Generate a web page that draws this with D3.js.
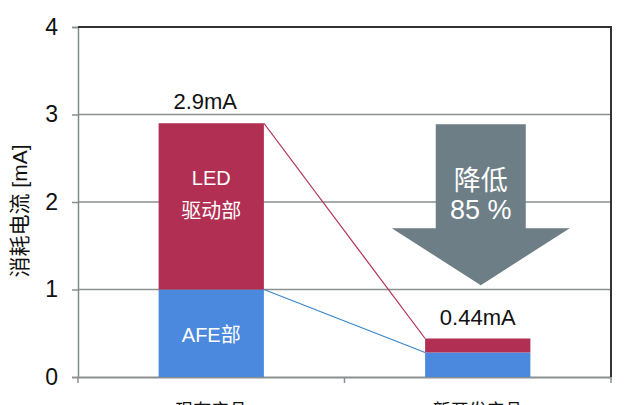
<!DOCTYPE html>
<html><head><meta charset="utf-8">
<script src="https://cdn.jsdelivr.net/npm/d3@7"></script>
<style>html,body{margin:0;padding:0;background:#fff;overflow:hidden}</style>
</head><body>
<svg id="c" width="640" height="405"></svg>
<script>
const categories = ["现有产品", "新开发产品"];
const afeValues = [1.0, 0.28];
const ledValues = [1.9, 0.16];
const totalLabels = ["2.9mA", "0.44mA"];
const yTicks = [0, 1, 2, 3, 4];
const arrowText = ["降低", "85 %"];

const W = 640, H = 405;
const L = 78, R = 611, T = 27, B = 377;
const svg = d3.select("#c");
const font = "'Liberation Sans', Arial, 'Noto Sans CJK SC', sans-serif";
const red = "#B12F52", blue = "#4A89DE", gray = "#6E7E86";

const x = d3.scaleBand().domain(categories).range([L, R]).padding(0);
const y = d3.scaleLinear().domain([0, 4]).range([B, T]);
const bw = x.bandwidth() * 0.395;
const bx = c => x(c) + (x.bandwidth() - bw) / 2;

// gridlines
svg.append("g").selectAll("line").data(yTicks.filter(d => d > 0 && d < 4)).join("line")
  .attr("x1", L).attr("x2", R).attr("y1", d => y(d)).attr("y2", d => y(d))
  .attr("stroke", "#8a8f90").attr("stroke-width", 1.5);

// y axis
const ya = svg.append("g").attr("transform", `translate(${L},0)`)
  .call(d3.axisLeft(y).tickValues(yTicks).tickSize(6).tickFormat(d3.format("d")));
ya.select(".domain").attr("stroke", "#7f8c8c").attr("stroke-width", 1.5);
ya.selectAll(".tick line").attr("stroke", "#8a8f90").attr("stroke-width", 1.5);
ya.selectAll(".tick text").attr("font-family", font).attr("font-size", 23).attr("fill", "#111").attr("x", -20);

// x axis
const xa = svg.append("g").attr("transform", `translate(0,${B})`)
  .call(d3.axisBottom(x).tickSize(0).tickPadding(27));
xa.select(".domain").attr("stroke", "#8a8f90").attr("stroke-width", 2);
xa.selectAll(".tick text").attr("font-family", font).attr("font-size", 18).attr("fill", "#111");
svg.append("g").selectAll("line").data([L, x(categories[1]), R]).join("line")
  .attr("x1", d => d).attr("x2", d => d).attr("y1", B).attr("y2", B + 6)
  .attr("stroke", "#8a8f90").attr("stroke-width", 1.5);

// top & right border
svg.append("path").attr("d", `M${L},${T}H${R}V${B}`).attr("fill", "none")
  .attr("stroke", "#333").attr("stroke-width", 2);

// bars
const g = svg.append("g");
g.selectAll(".afe").data(categories).join("rect")
  .attr("x", bx).attr("width", bw)
  .attr("y", (c, i) => y(afeValues[i])).attr("height", (c, i) => y(0) - y(afeValues[i]))
  .attr("fill", blue);
g.selectAll(".led").data(categories).join("rect")
  .attr("x", bx).attr("width", bw)
  .attr("y", (c, i) => y(afeValues[i] + ledValues[i])).attr("height", (c, i) => y(afeValues[i]) - y(afeValues[i] + ledValues[i]))
  .attr("fill", red);

// connector lines
svg.append("line")
  .attr("x1", bx(categories[0]) + bw).attr("y1", y(afeValues[0] + ledValues[0]))
  .attr("x2", bx(categories[1])).attr("y2", y(afeValues[1] + ledValues[1]))
  .attr("stroke", red).attr("stroke-width", 1.2);
svg.append("line")
  .attr("x1", bx(categories[0]) + bw).attr("y1", y(afeValues[0]))
  .attr("x2", bx(categories[1])).attr("y2", y(afeValues[1]))
  .attr("stroke", "#3a86c8").attr("stroke-width", 1.2);

// total labels
svg.selectAll(".tot").data(categories).join("text")
  .attr("x", (c, i) => x(c) + x.bandwidth() / 2 + (i === 0 ? -6 : 0))
  .attr("y", (c, i) => y(afeValues[i] + ledValues[i]) - 14)
  .attr("text-anchor", "middle").attr("font-family", font).attr("font-size", 22).attr("fill", "#111")
  .text((c, i) => totalLabels[i]);

// segment labels in bar 1
const c0 = x(categories[0]) + x.bandwidth() / 2;
svg.append("text").attr("x", c0).attr("y", y(2.19)).attr("text-anchor", "middle")
  .attr("font-family", font).attr("font-size", 20).attr("fill", "#fff").text("LED");
svg.append("text").attr("x", c0).attr("y", y(1.82)).attr("text-anchor", "middle")
  .attr("font-family", font).attr("font-size", 20).attr("fill", "#fff").text("驱动部");
svg.append("text").attr("x", c0).attr("y", y(0.4)).attr("text-anchor", "middle")
  .attr("font-family", font).attr("font-size", 20).attr("fill", "#fff").text("AFE部");

// arrow
const ac = x(categories[1]) + x.bandwidth() / 2 + 3;
const sw = 45, hw = 89;
const yTop = y(2.89), yNeck = y(1.7), yTip = y(1.05);
svg.append("path")
  .attr("d", `M${ac - sw},${yTop}H${ac + sw}V${yNeck}H${ac + hw}L${ac},${yTip}L${ac - hw},${yNeck}H${ac - sw}Z`)
  .attr("fill", gray);
svg.selectAll(".at").data(arrowText).join("text")
  .attr("x", ac).attr("y", (d, i) => 190 + i * 29)
  .attr("text-anchor", "middle").attr("font-family", font).attr("font-size", 27).attr("fill", "#fff")
  .text(d => d);

// y title
svg.append("text").attr("transform", `translate(27,211) rotate(-90)`)
  .attr("text-anchor", "middle").attr("font-family", font).attr("font-size", 21).attr("fill", "#111")
  .text("消耗电流 [mA]");
</script>
</body></html>
